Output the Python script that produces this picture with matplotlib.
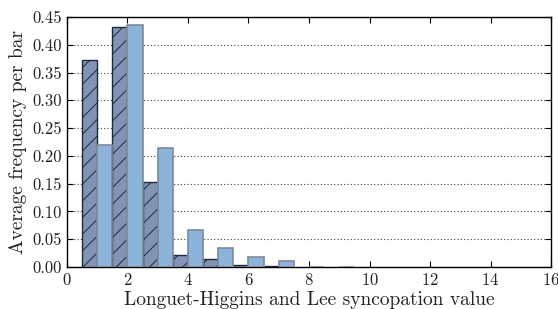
import numpy as np
import matplotlib
matplotlib.use("Agg")
import matplotlib.pyplot as plt

plt.rcParams.update({
    'font.family': 'serif',
    'font.serif': ['cmr10'],
    'mathtext.fontset': 'cm',
    'axes.formatter.use_mathtext': True,
    'hatch.linewidth': 0.7,
    'hatch.color': '#1c2a40',
})

# bin left edges (width 0.5) and average frequency per bar
dark_left = [0.5, 1.5, 2.5, 3.5, 4.5, 5.5, 6.5]
dark_vals = [0.373, 0.432, 0.153, 0.022, 0.015, 0.004, 0.002]
light_left = [1.0, 2.0, 3.0, 4.0, 5.0, 6.0, 7.0, 8.0, 9.0]
light_vals = [0.219, 0.435, 0.215, 0.066, 0.034, 0.018, 0.010, 0.0006, 0.0004]

y_ticks = np.arange(0, 0.451, 0.05)
x_ticks = np.arange(0, 17, 2)

fig = plt.figure(figsize=(5.58, 3.09), dpi=100)
ax = fig.add_axes([0.120, 0.136, 0.8675, 0.809])

ax.bar(dark_left, dark_vals, width=0.5, align='edge', color='#8393b3',
       edgecolor='#1c2a40', linewidth=1.0, hatch='//', zorder=3)
ax.bar(light_left, light_vals, width=0.5, align='edge', color='#8cb3d9',
       edgecolor='#7f8a96', linewidth=1.2, zorder=3)

ax.set_xlim(0, 16)
ax.set_ylim(0, 0.45)
ax.set_xticks(x_ticks)
ax.set_yticks(y_ticks)
ax.set_yticklabels(['%.2f' % v for v in y_ticks])
ax.yaxis.grid(True, linestyle=(0, (1, 2)), color='#444444', linewidth=0.8, zorder=0)
ax.tick_params(direction='in', top=True, right=True, labelsize=12, length=4,
               labelcolor='#222222')
for s in ax.spines.values():
    s.set_linewidth(1.0)

ax.set_xlabel('Longuet-Higgins and Lee syncopation value', fontsize=14, labelpad=2,
              color='#222222')
ax.set_ylabel('Average frequency per bar', fontsize=14, labelpad=4, color='#222222')

fig.savefig('out.png', dpi=100)
